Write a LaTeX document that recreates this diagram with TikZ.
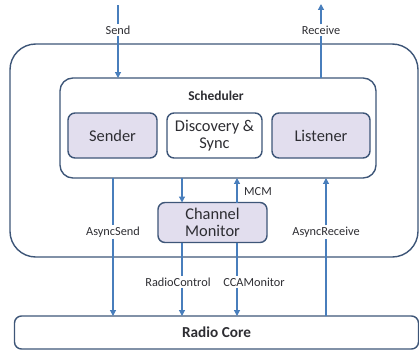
\documentclass[tikz,border=0pt]{standalone}
\usepackage{fontspec}
\setmainfont{Carlito}
\usetikzlibrary{arrows.meta}
\definecolor{boxline}{RGB}{62,86,120}
\definecolor{flow}{RGB}{72,126,188}
\definecolor{lilac}{RGB}{226,222,238}
\definecolor{ink}{RGB}{45,45,50}
\tikzset{
	block/.style={draw=boxline, line width=1.2pt, rounded corners=6pt, inner sep=0pt, outer sep=0pt, text=ink, align=center, font=\fontsize{14}{15}\selectfont},
	lbl/.style={text=ink, font=\fontsize{10.5}{12}\selectfont, inner sep=1pt},
	flowline/.style={draw=flow, line width=1pt},
	flowarrow/.style={flowline, -{Triangle[length=5pt,width=5pt]}}
}
\begin{document}
\begin{tikzpicture}[x=0.03cm, y=-0.03cm]
	\useasboundingbox (0,0) rectangle (419,354);

	\node[block, minimum width=12.24cm, minimum height=6.39cm, rounded corners=22pt] (stack) at (214,150.5) {};
	\node[block, minimum width=9.48cm, minimum height=3.0cm, rounded corners=11pt]  (sched) at (218,128) {};
	\node[text=ink, font=\fontsize{11.5}{12}\selectfont\bfseries]                   (schedtxt) at (216,96) {Scheduler};
	\node[block, fill=lilac, minimum width=2.67cm, minimum height=1.35cm]            (sender) at (112.5,135.5) {Sender};
	\node[block, fill=white, minimum width=2.85cm, minimum height=1.35cm]            (disc) at (214.5,135.5) {Discovery \&\\Sync};
	\node[block, fill=lilac, minimum width=2.94cm, minimum height=1.35cm]            (listener) at (321,135.5) {Listener};
	\node[block, fill=lilac, minimum width=3.27cm, minimum height=1.2cm]             (monitor) at (212.5,222.5) {Channel\\Monitor};
	\node[block, minimum width=12.12cm, minimum height=0.99cm, font=\fontsize{13}{14}\selectfont\bfseries] (radio) at (216.5,332.5) {Radio Core};

	\node[lbl] (send)       at (118,30)  {Send};
	\node[lbl] (receive)    at (321,30)  {Receive};
	\node[lbl] (asyncsend)  at (113,232) {AsyncSend};
	\node[lbl] (asyncrecv)  at (326,232) {AsyncReceive};
	\node[lbl] (mcm)        at (258,192) {MCM};
	\node[lbl] (radioctl)   at (178,282) {RadioControl};
	\node[lbl] (ccamon)     at (254,282) {CCAMonitor};

	\coordinate (sendtop) at (118,5);
	\coordinate (recvtop) at (321,4);
	\coordinate (ctl)     at (182,282);
	\coordinate (cca)     at (237,282);

	% host interface
	\draw[flowline]  (sendtop) -- (send);
	\draw[flowarrow] (send) -- (send |- sched.north);
	\draw[flowline]  (receive |- sched.north) -- (receive);
	\draw[flowarrow] (receive) -- (recvtop);

	% async paths to the radio
	\draw[flowline]  (asyncsend |- sched.south) -- (asyncsend);
	\draw[flowarrow] (asyncsend) -- (asyncsend |- radio.north);
	\draw[flowline]  (asyncrecv |- radio.north) -- (asyncrecv);
	\draw[flowarrow] (asyncrecv) -- (asyncrecv |- sched.south);

	% channel monitor
	\draw[flowarrow] (ctl |- sched.south) -- (ctl |- monitor.north);
	\draw[flowarrow] (cca |- monitor.north) -- (cca |- sched.south);
	\draw[flowline]  (ctl |- monitor.south) -- (ctl |- radioctl.north);
	\draw[flowarrow] (ctl |- radioctl.south) -- (ctl |- radio.north);
	\draw[flowline]  (cca |- monitor.south) -- (cca |- ccamon.north);
	\draw[flowarrow] (cca |- ccamon.south) -- (cca |- radio.north);
\end{tikzpicture}
\end{document}
